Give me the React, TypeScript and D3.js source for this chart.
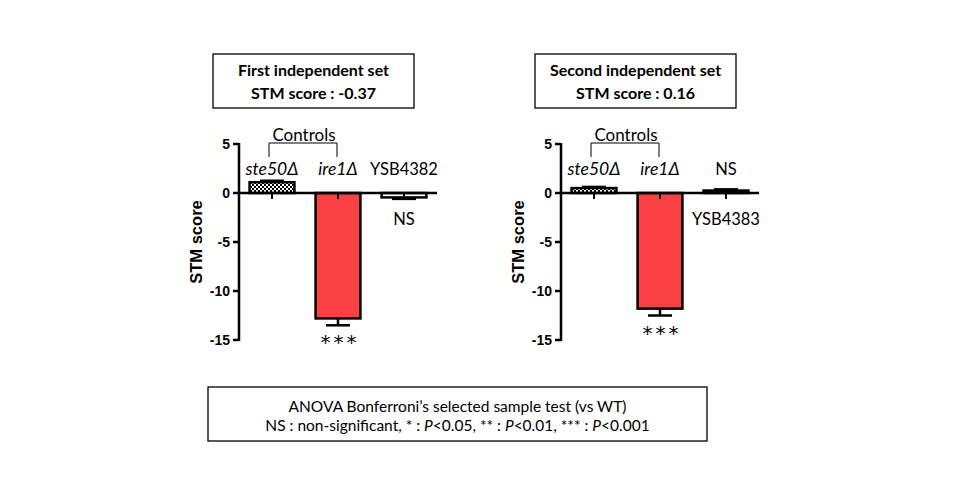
import React from "react"
import { scaleBand, scaleLinear } from "d3"

const categories = ["ste50Δ", "ire1Δ", "YSB"]
const firstValues = [1.1, -12.8, -0.45]
const firstErrors = [0.15, 0.7, 0.15]
const secondValues = [0.5, -11.8, 0.25]
const secondErrors = [0.12, 0.7, 0.12]
const yTicks = [5, 0, -5, -10, -15]
const barColors = ["url(#checker)", "#f94144", "#ffffff"]
const stars = ["", "***", ""]

const calibri = "Lato, 'Open Sans', sans-serif"
const arial = "'Liberation Sans', Arial, sans-serif"

interface PanelProps {
  x0: number
  x1: number
  values: number[]
  errors: number[]
  strain: string
  strainOnTop: boolean
  title: string[]
}

function Panel({ x0, x1, values, errors, strain, strainOnTop, title }: PanelProps) {
  const y = scaleLinear().domain([5, -15]).range([144, 340])
  const x = scaleBand().domain(categories).range([x0, x1]).paddingInner(0.32).paddingOuter(0.16)
  const bw = x.bandwidth()
  const cx = (k: string) => x(k)! + bw / 2
  const y0 = y(0)
  const boxX = x0 - 26
  return (
    <g>
      {/* title box */}
      <rect x={boxX} y={54} width={201} height={54} fill="#fff" stroke="#000" strokeWidth={1.3} />
      <text x={boxX + 100.5} y={76} textAnchor="middle" fontFamily={calibri} fontWeight="bold" fontSize={16}>{title[0]}</text>
      <text x={boxX + 100.5} y={99} textAnchor="middle" fontFamily={calibri} fontWeight="bold" fontSize={16}>{title[1]}</text>

      {/* bars */}
      {categories.map((c, i) => {
        const v = values[i]
        const top = Math.min(y(v), y0)
        const h = Math.abs(y(v) - y0)
        const ye = y(v + Math.sign(v) * errors[i])
        return (
          <g key={c}>
            <line x1={cx(c)} x2={cx(c)} y1={y(v)} y2={ye} stroke="#000" strokeWidth={2.5} />
            <line x1={cx(c) - 12} x2={cx(c) + 12} y1={ye} y2={ye} stroke="#000" strokeWidth={2.5} />
            <rect x={x(c)} y={top} width={bw} height={Math.max(h, 1)} fill={barColors[i]} stroke="#000" strokeWidth={2.5} />
          </g>
        )
      })}

      {/* axes */}
      <line x1={x0} x2={x1} y1={y0} y2={y0} stroke="#000" strokeWidth={2.5} />
      {categories.map((c) => (
        <line key={c} x1={cx(c)} x2={cx(c)} y1={y0} y2={y0 + 6} stroke="#000" strokeWidth={2} />
      ))}
      <line x1={x0} x2={x0} y1={y(5) - 1} y2={y(-15) + 1} stroke="#000" strokeWidth={2.5} />
      {yTicks.map((t) => (
        <g key={t}>
          <line x1={x0 - 6} x2={x0} y1={y(t)} y2={y(t)} stroke="#000" strokeWidth={2.5} />
          <text x={x0 - 9} y={y(t)} dy="0.36em" textAnchor="end" fontFamily={arial} fontWeight="bold" fontSize={14}>{t}</text>
        </g>
      ))}
      <text transform={`translate(${x0 - 37},${y(-5)}) rotate(-90)`} textAnchor="middle" fontFamily={arial} fontWeight="bold" fontSize={16.5}>STM score</text>

      {/* controls bracket */}
      <path d={`M${cx(categories[0]) - 3},157V143H${cx(categories[1]) - 1}V157`} fill="none" stroke="#000" strokeWidth={1} />
      <text x={(cx(categories[0]) + cx(categories[1])) / 2 - 1} y={141} textAnchor="middle" fontFamily={calibri} fontSize={17}>Controls</text>

      {/* category labels */}
      {categories.slice(0, 2).map((c) => (
        <text key={c} x={cx(c)} y={175} textAnchor="middle" fontFamily={calibri} fontStyle="italic" fontSize={17.5}>{c}</text>
      ))}
      <text x={cx(categories[2])} y={175} textAnchor="middle" fontFamily={calibri} fontSize={16.5}>{strainOnTop ? strain : "NS"}</text>
      <text x={cx(categories[2])} y={225} textAnchor="middle" fontFamily={calibri} fontSize={16.5}>{strainOnTop ? "NS" : strain}</text>

      {/* significance */}
      {categories.map((c, i) => (
        <text key={c} x={cx(c) + 2} y={y(values[i] - errors[i]) + 24} textAnchor="middle" fontFamily="'DejaVu Sans', sans-serif" fontSize={20} letterSpacing={3}>{stars[i]}</text>
      ))}
    </g>
  )
}

export default function App() {
  return (
    <div style={{ position: "absolute", left: 0, top: 0 }}>
      <svg width={960} height={500} style={{ display: "block", background: "#fff" }}>
        <defs>
          <pattern id="checker" width={4} height={4} patternUnits="userSpaceOnUse">
            <rect width={4} height={4} fill="#fff" />
            <rect width={2} height={2} fill="#000" />
            <rect x={2} y={2} width={2} height={2} fill="#000" />
          </pattern>
        </defs>
        <Panel x0={239} x1={437} values={firstValues} errors={firstErrors} strain="YSB4382" strainOnTop={true}
          title={["First independent set", "STM score : -0.37"]} />
        <Panel x0={561} x1={759} values={secondValues} errors={secondErrors} strain="YSB4383" strainOnTop={false}
          title={["Second independent set", "STM score : 0.16"]} />

        {/* footnote */}
        <rect x={208} y={387} width={499} height={54} fill="#fff" stroke="#000" strokeWidth={1.3} />
        <text x={457.5} y={412} textAnchor="middle" fontFamily={calibri} fontSize={15.5}>ANOVA Bonferroni’s selected sample test (vs WT)</text>
        <text x={457.5} y={431} textAnchor="middle" fontFamily={calibri} fontSize={15.5}>
          NS : non-significant, * : <tspan fontStyle="italic">P</tspan>&lt;0.05, ** : <tspan fontStyle="italic">P</tspan>&lt;0.01, *** : <tspan fontStyle="italic">P</tspan>&lt;0.001
        </text>
      </svg>
    </div>
  )
}
